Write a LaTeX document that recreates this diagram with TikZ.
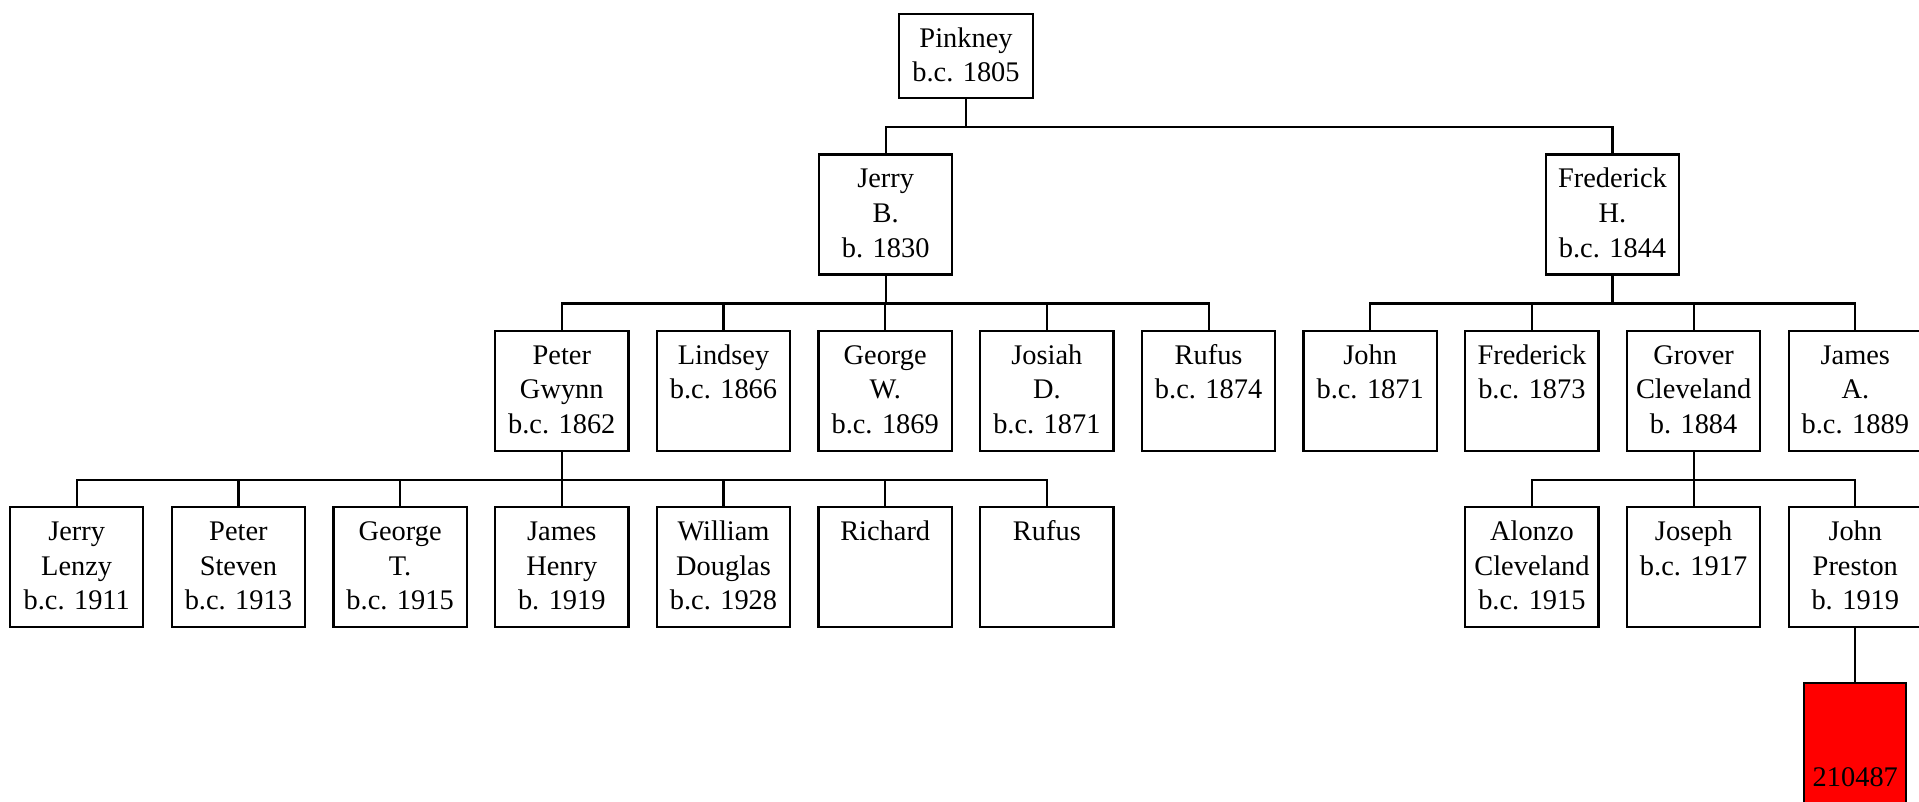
\documentclass[tikz,border=0pt]{standalone}
\usepackage{fontspec}
\setmainfont{Liberation Serif}
\begin{document}
\begin{tikzpicture}[x=0.75pt,y=-0.75pt,
  pbox/.style={draw=black, line width=1.65pt, fill=white, rectangle, minimum width=100pt, minimum height=90pt, inner sep=0pt, anchor=north},
  pboxshort/.style={pbox, minimum height=63pt},
  redbox/.style={pbox, fill=red, minimum width=76.5pt},
  ptext/.style={inner sep=0pt, anchor=base, font=\fontsize{21.3}{26}\selectfont},
  conn/.style={draw=black, line width=1.65pt}]
\useasboundingbox (0,0) rectangle (1919,801);
\clip (0,0) rectangle (1919,801);
\newcommand\person[5][pbox]{%
  \node[#1] (#2) at (#3,#4) {};
  \node[ptext] (#2-t) at (#3,#4+34.5) {\parbox[t]{98pt}{\centering #5}};}
% level 1
\person[pboxshort]{pinkney}{966}{12.7}{Pinkney\\b.c. 1805}
% level 2
\person{jerryb}{885.7}{153.3}{Jerry\\B.\\b. 1830}
\person{frederickh}{1612.5}{153.3}{Frederick\\H.\\b.c. 1844}
% level 3
\person{peterg}{561.8}{329.5}{Peter\\Gwynn\\b.c. 1862}
\person{lindsey}{723.5}{329.5}{Lindsey\\b.c. 1866}
\person{georgew}{885.2}{329.5}{George\\W.\\b.c. 1869}
\person{josiah}{1046.9}{329.5}{Josiah\\D.\\b.c. 1871}
\person{rufusa}{1208.6}{329.5}{Rufus\\b.c. 1874}
\person{john}{1370.2}{329.5}{John\\b.c. 1871}
\person{frederick}{1531.9}{329.5}{Frederick\\b.c. 1873}
\person{grover}{1693.6}{329.5}{Grover\\Cleveland\\b. 1884}
\person{jamesa}{1855.3}{329.5}{James\\A.\\b.c. 1889}
% level 4
\person{jerryl}{76.7}{506}{Jerry\\Lenzy\\b.c. 1911}
\person{peters}{238.4}{506}{Peter\\Steven\\b.c. 1913}
\person{georget}{400.1}{506}{George\\T.\\b.c. 1915}
\person{jamesh}{561.8}{506}{James\\Henry\\b. 1919}
\person{william}{723.5}{506}{William\\Douglas\\b.c. 1928}
\person{richard}{885.2}{506}{Richard}
\person{rufusb}{1046.9}{506}{Rufus}
\person{alonzo}{1531.9}{506}{Alonzo\\Cleveland\\b.c. 1915}
\person{joseph}{1693.6}{506}{Joseph\\b.c. 1917}
\person{johnp}{1855.3}{506}{John\\Preston\\b. 1919}
% level 5
\node[redbox] (red) at (1855.3,682) {};
\node[ptext] (red-t) at (1855.3,786.7) {210487};
% connectors
\foreach \c in {jerryb,frederickh}
  \draw[conn] (pinkney.south) -- ++(0,28.3) -| (\c.north);
\foreach \c in {peterg,lindsey,georgew,josiah,rufusa}
  \draw[conn] (jerryb.south) -- ++(0,27.9) -| (\c.north);
\foreach \c in {john,frederick,grover,jamesa}
  \draw[conn] (frederickh.south) -- ++(0,27.9) -| (\c.north);
\foreach \c in {jerryl,peters,georget,jamesh,william,richard,rufusb}
  \draw[conn] (peterg.south) -- ++(0,28.2) -| (\c.north);
\foreach \c in {alonzo,joseph,johnp}
  \draw[conn] (grover.south) -- ++(0,28.2) -| (\c.north);
\draw[conn] (johnp.south) -- (red.north);
\end{tikzpicture}
\end{document}
